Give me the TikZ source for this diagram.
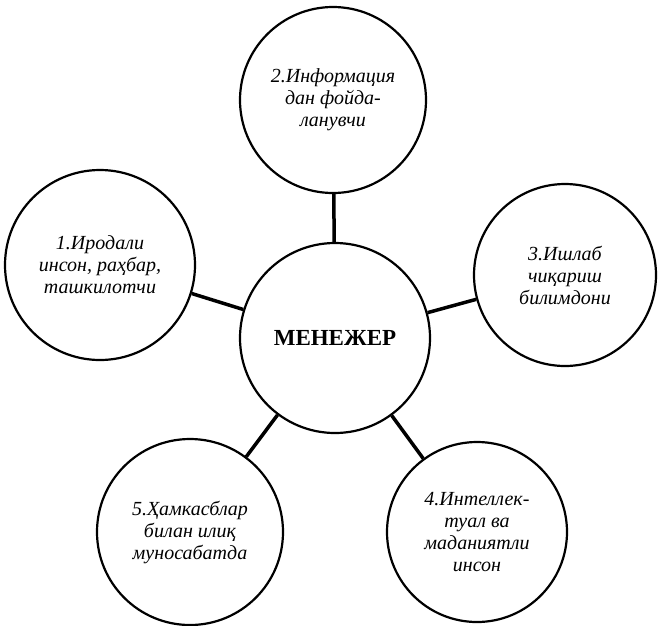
\documentclass[tikz,border=0pt]{standalone}
\usepackage{fontspec}
\setmainfont{Liberation Serif}
\usepackage{tikz}
\usetikzlibrary{positioning}
\tikzset{
  node-role/.style={draw,line width=2.2pt,circle,minimum size=186pt,
    inner sep=0pt,align=center,font=\itshape\fontsize{20}{22}\selectfont},
  node-main/.style={draw,line width=2.2pt,circle,minimum size=190pt,
    inner sep=0pt,align=center,font=\bfseries\fontsize{23}{28}\selectfont},
  link/.style={line width=3.5pt},
}

\begin{document}
\begin{tikzpicture}[x=1pt,y=-1pt]
  \useasboundingbox (0,0) rectangle (658,625);
  \node[node-main] at (335,338) (main) {МЕНЕЖЕР};
  \node[node-role] at (333,100) (info) {2.Информация\\дан фойда-\\ланувчи};
  \node[node-role,minimum size=190pt] at (100,265) (will) {1.Иродали\\инсон, раҳбар,\\ташкилотчи};
  \node[node-role,minimum size=182pt] at (565,275) (prod) {3.Ишлаб\\чиқариш\\билимдони};
  \node[node-role] at (190,532) (coll) {5.Ҳамкасблар\\билан илиқ\\муносабатда};
  \node[node-role,minimum size=180pt] at (477,532) (intel) {4.Интеллек-\\туал ва\\маданиятли\\инсон};
  \foreach \other in {info,will,prod,coll,intel}
    \draw[link] (main) -- (\other);
\end{tikzpicture}
\end{document}
